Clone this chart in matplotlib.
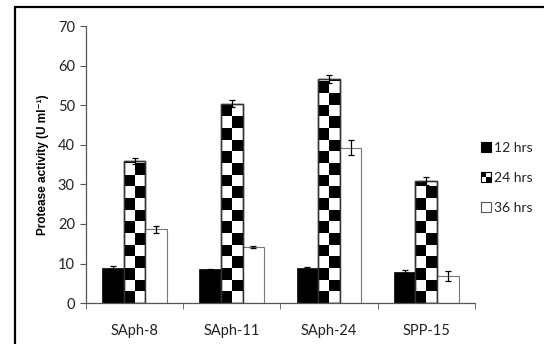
import matplotlib
matplotlib.use('Agg')
import matplotlib.pyplot as plt
from matplotlib.patches import Rectangle
from matplotlib.legend_handler import HandlerBase
import numpy as np

strains = ['SAph-8', 'SAph-11', 'SAph-24', 'SPP-15']
series = ['12 hrs', '24 hrs', '36 hrs']
hrs12 = [8.8, 8.5, 8.9, 7.9]
hrs12_err = [0.5, 0.2, 0.3, 0.4]
hrs24 = [35.9, 50.4, 56.6, 30.9]
hrs24_err = [0.7, 0.9, 1.0, 1.0]
hrs36 = [18.6, 14.2, 39.3, 6.9]
hrs36_err = [0.8, 0.2, 1.9, 1.2]

TICK_FONT = 'Lato'


def checker_bar(ax, rect, step=2.95):
    # paint a two-column checkerboard inside a bar, like the Excel pattern fill
    x0, w, h = rect.get_x(), rect.get_width(), rect.get_height()
    nrows = int(np.ceil(h / step))
    for i in range(nrows):
        y0 = i * step
        y1 = min(h, y0 + step)
        for j in range(2):
            if (i + j) % 2 == 0:
                ax.add_patch(Rectangle((x0 + j * w / 2, y0), w / 2, y1 - y0,
                                       facecolor='black', edgecolor='none', zorder=2))


class CheckerHandler(HandlerBase):
    def create_artists(self, legend, orig_handle, xdescent, ydescent,
                       width, height, fontsize, trans):
        s = min(width, height)
        x0 = -xdescent
        y0 = -ydescent + (height - s) / 2
        arts = [Rectangle((x0, y0), s, s, facecolor='white', edgecolor='black', lw=0.8)]
        arts.append(Rectangle((x0, y0 + s / 2), s / 2, s / 2, facecolor='black', edgecolor='none'))
        arts.append(Rectangle((x0 + s / 2, y0), s / 2, s / 2, facecolor='black', edgecolor='none'))
        for a in arts:
            a.set_transform(trans)
        return arts


class SquareHandler(HandlerBase):
    def create_artists(self, legend, orig_handle, xdescent, ydescent,
                       width, height, fontsize, trans):
        s = min(width, height)
        r = Rectangle((-xdescent, -ydescent + (height - s) / 2), s, s,
                      facecolor=orig_handle.get_facecolor(),
                      edgecolor=orig_handle.get_edgecolor(), lw=0.8)
        r.set_transform(trans)
        return [r]


fig = plt.figure(figsize=(5.44, 3.44), dpi=100)
ax = fig.add_axes([0.158, 0.119, 0.715, 0.805])

x = np.arange(len(strains))
bw = 0.222
err_kw = dict(ecolor='black', capsize=2.5, elinewidth=0.9, capthick=0.9)

b12 = ax.bar(x - bw, hrs12, bw, yerr=hrs12_err, color='black', edgecolor='black',
             linewidth=0.5, error_kw=err_kw, zorder=1)
b24 = ax.bar(x, hrs24, bw, color='white', edgecolor='#333333', linewidth=1.0, zorder=1)
for r in b24:
    checker_bar(ax, r)
# outline over the squares, then error bars
ax.bar(x, hrs24, bw, color='none', edgecolor='#333333', linewidth=1.0, zorder=3)
ax.errorbar(x, hrs24, yerr=hrs24_err, fmt='none', zorder=4, **err_kw)
b36 = ax.bar(x + bw, hrs36, bw, yerr=hrs36_err, color='white', edgecolor='#777777',
             linewidth=0.8, error_kw=err_kw, zorder=1)

ax.set_xlim(-0.5, len(strains) - 0.5)
ax.set_ylim(0, 70)
ax.set_yticks(range(0, 71, 10))
ax.set_xticks(x)
ax.set_xticklabels(strains)
ax.set_xticks(np.arange(-0.5, len(strains)), minor=True)
ax.tick_params(axis='x', which='major', length=0, pad=15)
ax.tick_params(axis='x', which='minor', length=4, direction='out', color='#555555')
ax.tick_params(axis='y', length=4, direction='out', color='#555555', pad=4)
for lab in ax.get_xticklabels() + ax.get_yticklabels():
    lab.set_fontfamily(TICK_FONT)
    lab.set_fontsize(10.5)
    lab.set_color('#222222')

for s in ['top', 'right']:
    ax.spines[s].set_visible(False)
for s in ['left', 'bottom']:
    ax.spines[s].set_color('#555555')
    ax.spines[s].set_linewidth(0.9)

ax.set_ylabel('Protease activity (U ml\u207b\u00b9)', fontfamily=['Liberation Sans', 'DejaVu Sans'],
              fontweight='bold', fontsize=8.5, labelpad=6)

handles = [Rectangle((0, 0), 1, 1, facecolor='black', edgecolor='black'),
           Rectangle((0, 0), 1, 1, facecolor='white', edgecolor='black'),
           Rectangle((0, 0), 1, 1, facecolor='white', edgecolor='#555555')]
leg = fig.legend(handles, series, loc='upper left', bbox_to_anchor=(0.862, 0.625),
                 frameon=False, handlelength=0.7, handleheight=0.7,
                 handletextpad=0.2, labelspacing=1.3,
                 prop={'family': TICK_FONT, 'size': 10},
                 handler_map={handles[0]: SquareHandler(), handles[1]: CheckerHandler(),
                              handles[2]: SquareHandler()})
for t in leg.get_texts():
    t.set_color('#222222')

# black frame around the chart area (only top and left fall inside the image)
fig.add_artist(Rectangle((0.028, -0.05), 1.1, 1.029, transform=fig.transFigure,
                         facecolor='none', edgecolor='black', linewidth=1.6))

fig.savefig('out.png', dpi=100)
